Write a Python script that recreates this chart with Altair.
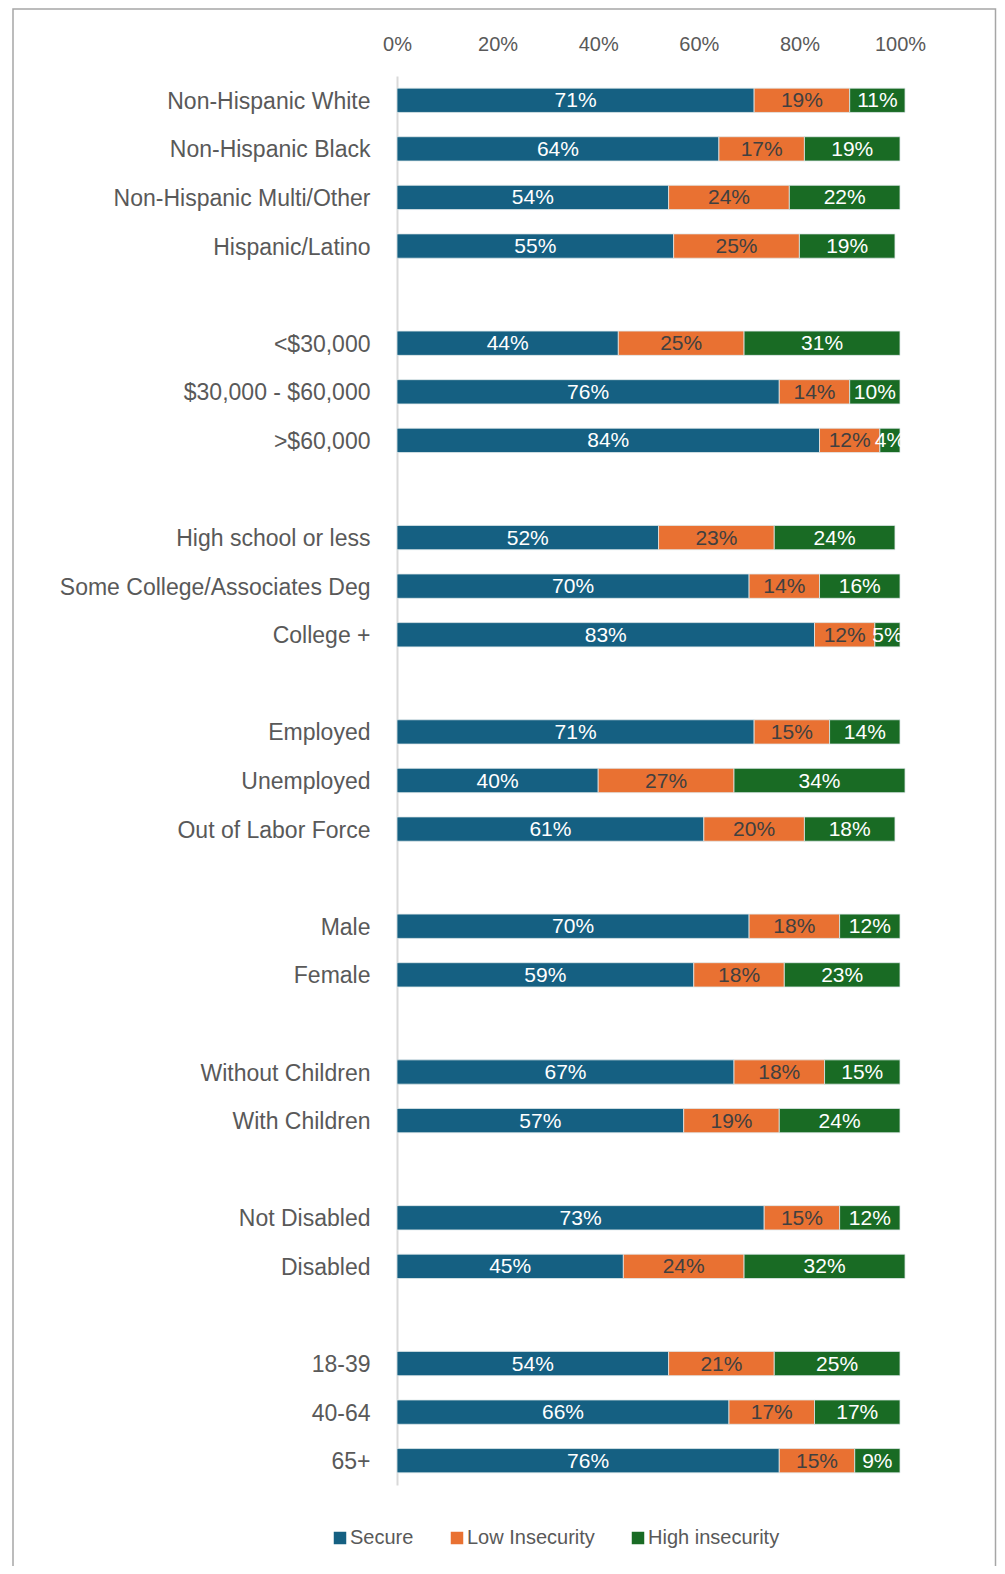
import altair as alt
import pandas as pd

categories = [
    "Non-Hispanic White", "Non-Hispanic Black", "Non-Hispanic Multi/Other", "Hispanic/Latino",
    "<$30,000", "$30,000 - $60,000", ">$60,000",
    "High school or less", "Some College/Associates Deg", "College +",
    "Employed", "Unemployed", "Out of Labor Force",
    "Male", "Female",
    "Without Children", "With Children",
    "Not Disabled", "Disabled",
    "18-39", "40-64", "65+",
]
group_sizes = [4, 3, 3, 3, 2, 2, 2, 3]
secure = [71, 64, 54, 55, 44, 76, 84, 52, 70, 83, 71, 40, 61, 70, 59, 67, 57, 73, 45, 54, 66, 76]
low_insecurity = [19, 17, 24, 25, 25, 14, 12, 23, 14, 12, 15, 27, 20, 18, 18, 18, 19, 15, 24, 21, 17, 15]
high_insecurity = [11, 19, 22, 19, 31, 10, 4, 24, 16, 5, 14, 34, 18, 12, 23, 15, 24, 12, 32, 25, 17, 9]
series = ["Secure", "Low Insecurity", "High insecurity"]
colors = ["#156082", "#E97132", "#196B24"]

# y order with blank spacer rows between groups
order = []
i = 0
for g, n in enumerate(group_sizes):
    if g > 0:
        order.append(f"gap{g}")
    order.extend(categories[i:i + n])
    i += n

rows = []
for ci, c in enumerate(categories):
    start = 0.0
    for si, (s, vals) in enumerate(zip(series, [secure, low_insecurity, high_insecurity])):
        v = vals[ci] / 100.0
        rows.append({"cat": c, "series": s, "order": si, "start": start, "end": start + v,
                     "mid": start + v / 2, "label": f"{vals[ci]}%"})
        start += v
df = pd.DataFrame(rows)

FONT = "Liberation Sans"
GRAY = "#595959"

y_enc = alt.Y("cat:N", sort=order,
              scale=alt.Scale(domain=order, paddingInner=0.5, paddingOuter=0.25),
              axis=alt.Axis(title=None, ticks=False, labelPadding=27, labelFontSize=23,
                            labelColor=GRAY, labelFont=FONT, domainColor="#d9d9d9",
                            domainWidth=2, grid=False, labelLimit=400, labelOffset=1.5,
                            labelExpr="indexof(datum.label, 'gap') == 0 ? '' : datum.label"))

bars = alt.Chart(df).mark_bar(stroke="#dfe8ea", strokeWidth=0.8).encode(
    x=alt.X("start:Q", scale=alt.Scale(domain=[0, 1]),
            axis=alt.Axis(orient="top", format=".0%", values=[0, 0.2, 0.4, 0.6, 0.8, 1.0],
                          title=None, ticks=False, domain=False, grid=False, labelFlush=False,
                          labelPadding=22, labelFontSize=20, labelColor=GRAY,
                          labelFont=FONT)),
    x2="end:Q",
    y=y_enc,
    color=alt.Color("series:N", sort=series,
                    scale=alt.Scale(domain=series, range=colors),
                    legend=alt.Legend(title=None, orient="none", direction="horizontal",
                                      legendX=-67, legendY=1452, symbolType="square",
                                      symbolSize=156, symbolStrokeWidth=0, labelFontSize=20,
                                      labelColor=GRAY, labelFont=FONT, columnPadding=33,
                                      labelOffset=0)),
    order=alt.Order("order:Q"),
)

texts = alt.Chart(df).mark_text(fontSize=21, font=FONT, baseline="middle", align="center", dy=1).encode(
    x="mid:Q",
    y=alt.Y("cat:N", sort=order),
    text="label:N",
    color=alt.condition(alt.datum.series == "Low Insecurity", alt.value("#404040"), alt.value("white")),
)

frame = alt.Chart(pd.DataFrame({"a": [0]})).mark_rect(fill=None, stroke="#a6a6a6", strokeWidth=1.5).encode(
    x=alt.value(-384), x2=alt.value(598.5), y=alt.value(-67), y2=alt.value(1560)
)

chart = alt.layer(frame, bars, texts).properties(
    width=503, height=1409,
    autosize=alt.AutoSizeParams(type="none"),
    padding={"left": 389, "top": 68, "right": 97, "bottom": 81},
).configure_view(stroke=None)

chart.save("out.html", embed_options={"renderer": "svg", "actions": False})
